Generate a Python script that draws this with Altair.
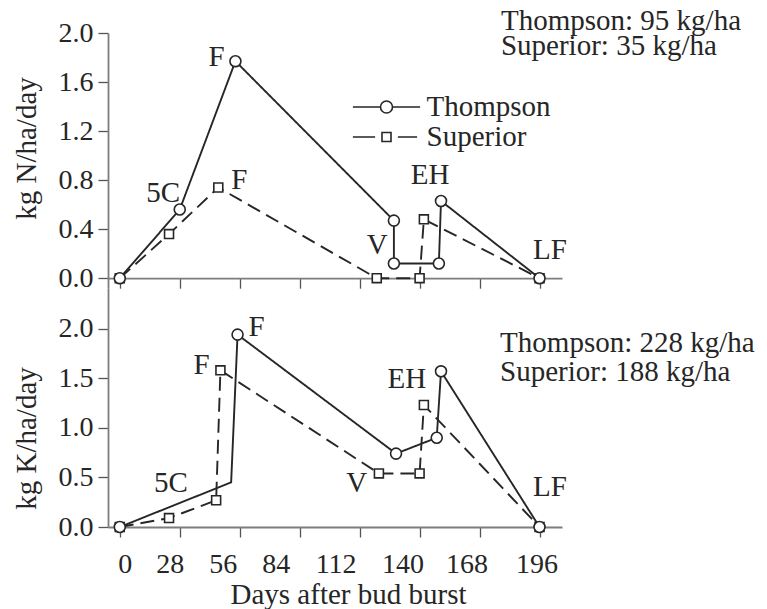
import altair as alt
import pandas as pd

# ---------------- data ----------------
day_ticks = [0, 28, 56, 84, 112, 140, 168, 196]
series_names = ["Thompson", "Superior"]

# Nitrogen panel (top)
n_thompson_day = [0, 28, 54, 128, 128, 149, 150, 196]
n_thompson_val = [0.0, 0.56, 1.77, 0.47, 0.12, 0.12, 0.63, 0.0]
n_thompson_marker = [1, 1, 1, 1, 1, 1, 1, 1]
n_superior_day = [0, 23, 46, 120, 140, 142, 196]
n_superior_val = [0.0, 0.36, 0.74, 0.0, 0.0, 0.48, 0.0]
n_superior_marker = [1, 1, 1, 1, 1, 1, 1]

# Potassium panel (bottom)
k_thompson_day = [0, 52, 55, 129, 148, 150, 196]
k_thompson_val = [0.0, 0.45, 1.94, 0.74, 0.90, 1.57, 0.0]
k_thompson_marker = [1, 0, 1, 1, 1, 1, 1]
k_superior_day = [0, 23, 45, 47, 121, 140, 142, 196]
k_superior_val = [0.0, 0.09, 0.27, 1.58, 0.54, 0.54, 1.23, 0.0]
k_superior_marker = [1, 1, 1, 1, 1, 1, 1, 1]

# stage labels
n_stage_text = ["F", "5C", "F", "V", "EH", "LF"]
n_stage_day = [45.2, 20.3, 55.8, 120.2, 144.9, 200.9]
n_stage_val = [1.807, 0.693, 0.801, 0.271, 0.842, 0.230]
k_stage_text = ["5C", "F", "F", "V", "EH", "LF"]
k_stage_day = [23.9, 63.9, 38.2, 110.6, 134.0, 200.9]
k_stage_val = [0.441, 2.02, 1.634, 0.441, 1.489, 0.406]

# seasonal totals
n_total_text = ["Thompson: 95 kg/ha", "Superior: 35 kg/ha"]
n_total_day = [178.0, 178.0]
n_total_val = [2.024, 1.821]
k_total_text = ["Thompson: 228 kg/ha", "Superior: 188 kg/ha"]
k_total_day = [177.6, 177.6]
k_total_val = [1.768, 1.475]

# ---------------- style ----------------
FONT = "Liberation Serif"
INK = "#262626"
AXIS_GRAY = "#7d7d7d"
FS = 29
TICK_FS = 28

# the printed tick labels sit slightly off their ticks
label_shift = {0: 5, 28: -10, 56: -17, 84: -24, 112: -24, 140: -17, 168: -13, 196: -3}
label_offset = {
    "condition": [{"test": f"datum.value === {k}", "value": v} for k, v in label_shift.items()],
    "value": 0,
}

# legend symbols (unit = sqrt(size)/2 px)
TH_PATH = "M-5.6,0L-1,0M1,0L5.6,0M-1,0A1,1,0,1,1,1,0A1,1,0,1,1,-1,0Z"
SU_PATH = "M-5.6,0L-1.9,0M1.9,0L5.1,0M-0.75,-0.75L0.75,-0.75L0.75,0.75L-0.75,0.75Z"


def series_df(days, vals, marks, name):
    return pd.DataFrame({"day": days, "val": vals, "marker": marks,
                         "series": name, "idx": list(range(len(days)))})


def panel(th, su, stage_df, total_df, ydom, yticks, ytitle, title_y, height,
          bottom, with_legend):
    if bottom:
        x_axis = alt.Axis(values=day_ticks, format="d", title="Days after bud burst",
                          labelPadding=13, labelFontSize=TICK_FS, labelOffset=label_offset,
                          titleX=240, titleY=76.5,
                          titleAlign="center", titleBaseline="alphabetic")
    else:
        x_axis = alt.Axis(values=day_ticks, labels=False, title=None, offset=-9.8)
    x = alt.X("day:Q", scale=alt.Scale(domain=[-5.5, 206.5], nice=False, zero=False),
              axis=x_axis)
    y = alt.Y("val:Q", scale=alt.Scale(domain=ydom, nice=False, zero=False),
              axis=alt.Axis(values=yticks, format=".1f", title=ytitle,
                            labelFontSize=TICK_FS,
                            titleX=-73, titleY=title_y, titleAngle=270,
                            titleAlign="center", titleBaseline="alphabetic"))

    layers = []
    for df, dash in [(su, [14, 7]), (th, [1, 0])]:
        layers.append(alt.Chart(df).mark_line(color=INK, strokeWidth=1.9, strokeDash=dash)
                      .encode(x=x, y=y, order="idx:Q"))
    for df, shape, size in [(su, "square", 80), (th, "circle", 120)]:
        layers.append(alt.Chart(df).transform_filter("datum.marker == 1")
                      .mark_point(shape=shape, size=size, filled=True, fill="white",
                                  stroke=INK, strokeWidth=1.6, opacity=1)
                      .encode(x=x, y=y))
    layers.append(alt.Chart(stage_df).mark_text(font=FONT, fontSize=FS, color=INK,
                                                align="center", baseline="middle")
                  .encode(x=x, y=y, text="label:N"))
    layers.append(alt.Chart(total_df).mark_text(font=FONT, fontSize=FS, color=INK,
                                                align="left", baseline="alphabetic")
                  .encode(x=x, y=y, text="label:N"))
    if with_legend:
        leg_df = pd.DataFrame({"series": series_names, "day": [0.0, 0.0], "val": [0.0, 0.0]})
        layers.append(
            alt.Chart(leg_df).transform_filter("false")
            .mark_point(filled=False, color=INK, strokeWidth=1.6, opacity=1)
            .encode(x=x, y=y,
                    shape=alt.Shape("series:N",
                                    scale=alt.Scale(domain=series_names,
                                                    range=[TH_PATH, SU_PATH]),
                                    legend=alt.Legend(title=None, orient="none",
                                                      legendX=264, legendY=59.5,
                                                      symbolSize=144,
                                                      symbolStrokeWidth=1.6,
                                                      symbolStrokeColor=INK,
                                                      symbolOpacity=1,
                                                      labelFont=FONT, labelFontSize=FS,
                                                      labelColor=INK, labelOffset=25.5,
                                                      rowPadding=-3, padding=0,
                                                      labelLimit=0)))
        )
    return alt.layer(*layers).properties(width=454, height=height)


n_th = series_df(n_thompson_day, n_thompson_val, n_thompson_marker, "Thompson")
n_su = series_df(n_superior_day, n_superior_val, n_superior_marker, "Superior")
k_th = series_df(k_thompson_day, k_thompson_val, k_thompson_marker, "Thompson")
k_su = series_df(k_superior_day, k_superior_val, k_superior_marker, "Superior")

n_stage = pd.DataFrame({"label": n_stage_text, "day": n_stage_day, "val": n_stage_val})
k_stage = pd.DataFrame({"label": k_stage_text, "day": k_stage_day, "val": k_stage_val})
n_total = pd.DataFrame({"label": n_total_text, "day": n_total_day, "val": n_total_val})
k_total = pd.DataFrame({"label": k_total_text, "day": k_total_day, "val": k_total_val})

top = panel(n_th, n_su, n_stage, n_total, [-0.08, 2.0],
            [0.0, 0.4, 0.8, 1.2, 1.6, 2.0], "kg N/ha/day", 115, 255, False, True)
bottom = panel(k_th, k_su, k_stage, k_total, [0.0, 2.41],
               [0.0, 0.5, 1.0, 1.5, 2.0], "kg K/ha/day", 150, 239, True, False)

chart = (
    alt.vconcat(top, bottom, spacing=0, bounds="flush")
    .resolve_scale(x="independent", y="independent")
    .properties(padding={"left": 4, "top": -1, "right": 0, "bottom": 0})
    .configure_view(stroke=None)
    .configure_axis(labelFont=FONT, titleFont=FONT, labelFontSize=TICK_FS, titleFontSize=FS,
                    labelColor=INK, titleColor=INK, titleFontWeight="normal",
                    domainColor=AXIS_GRAY, domainWidth=1.8, tickColor="#555555",
                    tickWidth=1.3, tickSize=10, grid=False, labelPadding=5)
)

chart.save("out.html", embed_options={"renderer": "svg", "actions": False})
